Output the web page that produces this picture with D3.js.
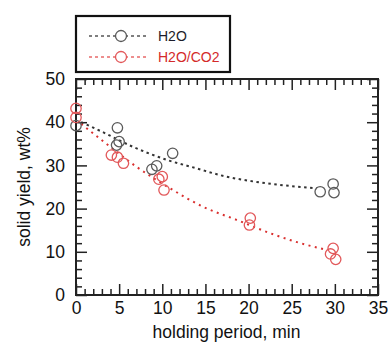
<!DOCTYPE html>
<html><head><meta charset="utf-8">
<script src="https://cdn.jsdelivr.net/npm/d3@7"></script>
<style>body{margin:0;background:#fff}svg{display:block}text{font-family:"Liberation Sans",Arial,sans-serif}</style>
</head><body>
<script>
// data
const seriesNames = ["H2O", "H2O/CO2"];
const h2oTime  = [0, 4.8, 5.0, 4.7, 8.8, 9.35, 11.2, 28.3, 29.8, 29.9];
const h2oYield = [39.2, 38.7, 35.5, 34.7, 29.1, 29.9, 32.8, 23.9, 25.7, 23.7];
const co2Time  = [0, 0, 4.1, 4.8, 5.5, 9.6, 10.0, 10.2, 20.2, 20.1, 29.8, 29.5, 30.1];
const co2Yield = [43.2, 41.1, 32.4, 31.9, 30.5, 26.8, 27.4, 24.3, 17.8, 16.2, 10.8, 9.5, 8.25];
// fitted trend curves
const h2oFitTime  = [0.6, 3, 6.6, 10.5, 14, 17, 20.5, 24, 27.9];
const h2oFitYield = [40, 37.8, 34.3, 31.3, 29.3, 27.6, 26.3, 25.4, 24.7];
const co2FitTime  = [0.6, 3.2, 7, 10.9, 14.75, 18.6, 22.5, 25.5, 28.7];
const co2FitYield = [39.6, 35.5, 29.7, 24.7, 20.4, 17.4, 14.3, 12.3, 10.6];
const xTicks = [0, 5, 10, 15, 20, 25, 30, 35];
const yTicks = [0, 10, 20, 30, 40, 50];
const xLabel = "holding period, min";
const yLabel = "solid yield, wt%";

const W = 388, H = 342;
const L = 76, R = 378, T = 79, B = 295;
const svg = d3.select("body").append("svg").attr("width", W).attr("height", H);
const x = d3.scaleLinear().domain([0, 35]).range([L, R]);
const y = d3.scaleLinear().domain([0, 50]).range([B, T]);
const ink = "#222";
const grayC = "#5a5a5a", redC = "#e2585a";

const xMinor = d3.range(0, 36, 1).filter(v => v % 5 !== 0);
const yMinor = d3.range(0, 51, 2).filter(v => v % 10 !== 0);

function styleAxis(g) {
  g.select(".domain").remove();
  g.selectAll("line").attr("stroke", ink).attr("stroke-width", 1.5);
  g.selectAll("text").attr("font-size", 17.5).attr("fill", "#111")
    .attr("font-family", '"Liberation Sans", Arial, sans-serif');
}
// bottom
svg.append("g").attr("transform", `translate(0,${B})`)
  .call(d3.axisBottom(x).tickValues(xTicks).tickSize(-11).tickSizeOuter(0).tickPadding(7).tickFormat(d3.format("d"))).call(styleAxis);
svg.append("g").attr("transform", `translate(0,${B})`)
  .call(d3.axisBottom(x).tickValues(xMinor).tickSize(-6).tickSizeOuter(0).tickFormat("")).call(styleAxis);
// top
svg.append("g").attr("transform", `translate(0,${T})`)
  .call(d3.axisTop(x).tickValues(xTicks).tickSize(-11).tickSizeOuter(0).tickFormat("")).call(styleAxis);
svg.append("g").attr("transform", `translate(0,${T})`)
  .call(d3.axisTop(x).tickValues(xMinor).tickSize(-6).tickSizeOuter(0).tickFormat("")).call(styleAxis);
// left
svg.append("g").attr("transform", `translate(${L},0)`)
  .call(d3.axisLeft(y).tickValues(yTicks).tickSize(-11).tickSizeOuter(0).tickPadding(11).tickFormat(d3.format("d"))).call(styleAxis);
svg.append("g").attr("transform", `translate(${L},0)`)
  .call(d3.axisLeft(y).tickValues(yMinor).tickSize(-6).tickSizeOuter(0).tickFormat("")).call(styleAxis);
// right
svg.append("g").attr("transform", `translate(${R},0)`)
  .call(d3.axisRight(y).tickValues(yTicks).tickSize(-11).tickSizeOuter(0).tickFormat("")).call(styleAxis);
svg.append("g").attr("transform", `translate(${R},0)`)
  .call(d3.axisRight(y).tickValues(yMinor).tickSize(-6).tickSizeOuter(0).tickFormat("")).call(styleAxis);

// frame
svg.append("rect").attr("x", L).attr("y", T).attr("width", R - L).attr("height", B - T)
  .attr("fill", "none").attr("stroke", ink).attr("stroke-width", 2);

// trend curves
const line = d3.line().x(d => x(d[0])).y(d => y(d[1])).curve(d3.curveMonotoneX);
svg.append("path").datum(h2oFitTime.map((t, i) => [t, h2oFitYield[i]]))
  .attr("d", line).attr("fill", "none").attr("stroke", "#333").attr("stroke-width", 2)
  .attr("stroke-dasharray", "2.5,3.5");
svg.append("path").datum(co2FitTime.map((t, i) => [t, co2FitYield[i]]))
  .attr("d", line).attr("fill", "none").attr("stroke", "#d9302f").attr("stroke-width", 2)
  .attr("stroke-dasharray", "2,4.5");

// points
function pts(ts, ys, col) {
  svg.append("g").selectAll("circle").data(ts.map((t, i) => [t, ys[i]])).join("circle")
    .attr("cx", d => x(d[0])).attr("cy", d => y(d[1])).attr("r", 5.2)
    .attr("fill", "none").attr("stroke", col).attr("stroke-width", 1.3);
}
pts(h2oTime, h2oYield, grayC);
pts(co2Time, co2Yield, redC);

// axis labels
svg.append("text").attr("x", 226.5).attr("y", 338).attr("text-anchor", "middle")
  .attr("font-size", 17.5).attr("fill", "#111").text(xLabel);
svg.append("text").attr("transform", `translate(29.5,${(T + B) / 2}) rotate(-90)`)
  .attr("text-anchor", "middle").attr("font-size", 17.5).attr("fill", "#111").text(yLabel);

// legend
svg.append("rect").attr("x", 76).attr("y", 16).attr("width", 154).attr("height", 56)
  .attr("fill", "#fff").attr("stroke", "#111").attr("stroke-width", 2.2);
const legendCols = [{line: "#555", circ: grayC, text: "#1c1c2a"}, {line: "#e86a6a", circ: redC, text: "#d42a2a"}];
seriesNames.forEach((name, i) => {
  const ly = 36 + i * 21;
  const c = legendCols[i];
  svg.append("line").attr("x1", 89).attr("x2", 148).attr("y1", ly).attr("y2", ly)
    .attr("stroke", c.line).attr("stroke-width", 1.3).attr("stroke-dasharray", "3,3");
  svg.append("circle").attr("cx", 121).attr("cy", ly).attr("r", 5.5).attr("fill", "#fff")
    .attr("stroke", c.circ).attr("stroke-width", 1.3);
  svg.append("text").attr("x", 158).attr("y", ly + 5).attr("font-size", 14)
    .attr("fill", c.text).text(name);
});
</script>
</body></html>
